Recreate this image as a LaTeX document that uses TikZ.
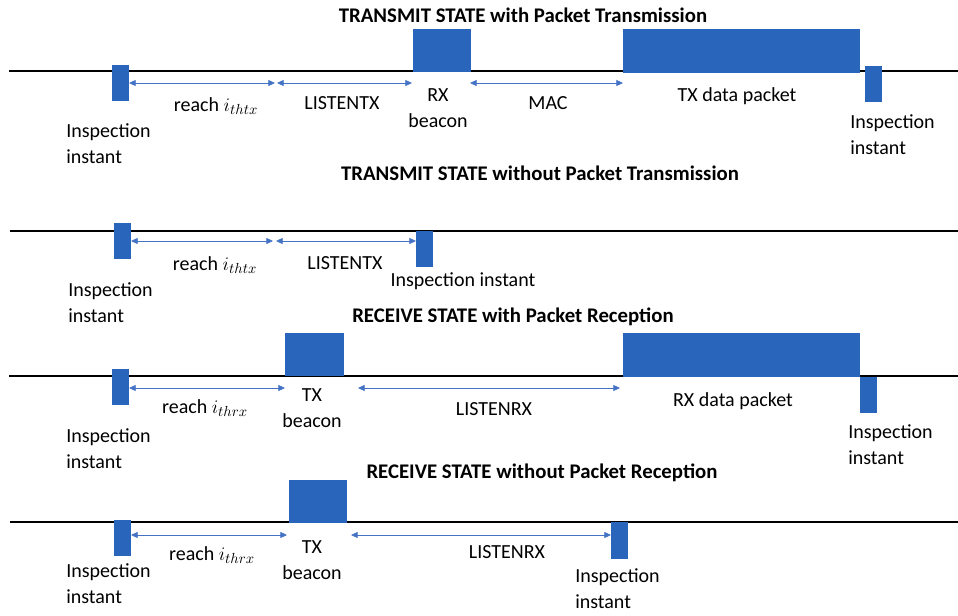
\documentclass[tikz,border=0pt]{standalone}
\usepackage{fontspec}
\setmainfont{Carlito}
\usetikzlibrary{arrows.meta,fit}
\definecolor{boxblue}{RGB}{41,101,186}
\definecolor{arrblue}{RGB}{68,114,196}
\begin{document}
\begin{tikzpicture}[x=0.75pt,y=-0.75pt,
  box/.style={draw=boxblue,fill=boxblue,inner sep=0pt,line width=0.5pt},
  tl/.style={draw=black,line width=1.1pt},
  dim/.style={draw=arrblue,line width=0.6pt,{Triangle[length=5pt,width=4.5pt]}-{Triangle[length=5pt,width=4.5pt]}},
  lbl/.style={font=\fontsize{15}{19.5}\selectfont,inner sep=0pt,align=center},
  lbll/.style={font=\fontsize{15}{19.5}\selectfont,inner sep=0pt,align=left,anchor=west},
  ttl/.style={font=\fontsize{15.6}{18}\selectfont\bfseries,inner sep=0pt}]
\useasboundingbox (0,0) rectangle (958,615);

% ---------- Panel 1 ----------
\node[ttl] (t1) at (523,15) {TRANSMIT STATE with Packet Transmission};
\coordinate (l1a) at (9,71); \coordinate (l1b) at (958,71);
\draw[tl] (l1a) -- (l1b);
\node[box,fit={(112,65)(128,100)}] (i1a) {};
\node[box,fit={(413,29)(470,71)}] (rx1) {};
\node[box,fit={(623,29)(859,72)}] (tx1) {};
\node[box,fit={(865,66)(881,101)}] (i1b) {};
\coordinate (a1) at (129,83); \coordinate (a2) at (275,83);
\coordinate (a3) at (277,83); \coordinate (a4) at (412,83);
\coordinate (a5) at (470,83); \coordinate (a6) at (623,83);
\draw[dim] (a1) -- (a2);
\draw[dim] (a3) -- (a4);
\draw[dim] (a5) -- (a6);
\node[lbl] (r1) at (216,106) {reach $\mathsurround=0pt i_{\scriptstyle thtx}$};
\node[lbl] (lt1) at (342,103) {LISTENTX};
\node[lbl] (rxl1) at (438,108) {RX\\beacon};
\node[lbl] (mac1) at (548,103) {MAC};
\node[lbl] (txd1) at (737,96) {TX data packet};
\node[lbll] (in1a) at (66,144) {Inspection\\instant};
\node[lbll] (in1b) at (850,135) {Inspection\\instant};

% ---------- Panel 2 ----------
\node[ttl] (t2) at (540,173) {TRANSMIT STATE without Packet Transmission};
\coordinate (l2a) at (10,231); \coordinate (l2b) at (958,231);
\draw[tl] (l2a) -- (l2b);
\node[box,fit={(114,223)(130,258)}] (i2a) {};
\node[box,fit={(416,231)(432,266)}] (i2b) {};
\coordinate (b1) at (131,241); \coordinate (b2) at (273,241);
\coordinate (b3) at (276,241); \coordinate (b4) at (416,241);
\draw[dim] (b1) -- (b2);
\draw[dim] (b3) -- (b4);
\node[lbl] (r2) at (215,265) {reach $i_{\scriptstyle thtx}$};
\node[lbl] (lt2) at (345,263) {LISTENTX};
\node[lbl] (in2b) at (463,281) {Inspection instant};
\node[lbll] (in2a) at (68,303) {Inspection\\instant};

% ---------- Panel 3 ----------
\node[ttl] (t3) at (513,317) {RECEIVE STATE with Packet Reception};
\coordinate (l3a) at (9,376); \coordinate (l3b) at (958,376);
\draw[tl] (l3a) -- (l3b);
\node[box,fit={(112,369)(128,404)}] (i3a) {};
\node[box,fit={(285,333)(343,375)}] (tb3) {};
\node[box,fit={(623,333)(859,376)}] (rxd3) {};
\node[box,fit={(860,377)(876,412)}] (i3b) {};
\coordinate (c1) at (129,388); \coordinate (c2) at (285,388);
\coordinate (c3) at (358,388); \coordinate (c4) at (620,388);
\draw[dim] (c1) -- (c2);
\draw[dim] (c3) -- (c4);
\node[lbl] (r3) at (205,408) {reach $i_{\scriptstyle thrx}$};
\node[lbl] (tbl3) at (312,408) {TX\\beacon};
\node[lbl] (lr3) at (494,409) {LISTENRX};
\node[lbl] (rxl3) at (733,401) {RX data packet};
\node[lbll] (in3a) at (66,449) {Inspection\\instant};
\node[lbll] (in3b) at (848,445) {Inspection\\instant};

% ---------- Panel 4 ----------
\node[ttl] (t4) at (542,473) {RECEIVE STATE without Packet Reception};
\coordinate (l4a) at (10,522); \coordinate (l4b) at (958,522);
\draw[tl] (l4a) -- (l4b);
\node[box,fit={(114,520)(130,555)}] (i4a) {};
\node[box,fit={(289,480)(346,522)}] (tb4) {};
\node[box,fit={(611,522)(627,558)}] (i4b) {};
\coordinate (d1) at (131,535); \coordinate (d2) at (287,535);
\coordinate (d3) at (351,535); \coordinate (d4) at (611,535);
\draw[dim] (d1) -- (d2);
\draw[dim] (d3) -- (d4);
\node[lbl] (r4) at (212,555) {reach $i_{\scriptstyle thrx}$};
\node[lbl] (tbl4) at (312,560) {TX\\beacon};
\node[lbl] (lr4) at (507,552) {LISTENRX};
\node[lbll] (in4a) at (66,584) {Inspection\\instant};
\node[lbll] (in4b) at (575,589) {Inspection\\instant};
\end{tikzpicture}
\end{document}
